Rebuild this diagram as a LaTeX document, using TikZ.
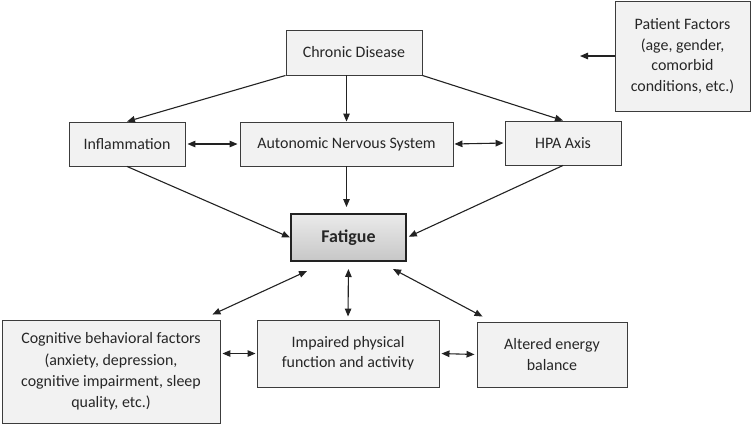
\documentclass[tikz,border=0pt]{standalone}
\usepackage{fontspec}
\setmainfont{Carlito}
\usetikzlibrary{calc,arrows.meta}
\definecolor{boxfill}{HTML}{F2F2F2}
\definecolor{boxline}{HTML}{3C3C3C}
\definecolor{arrowcol}{HTML}{222222}
\definecolor{textcol}{HTML}{262626}
\tikzstyle{box} = [draw=boxline,fill=boxfill,text=textcol,line width=0.9bp,align=center,inner sep=0pt,font=\fontsize{16}{20.5}\selectfont]
\tikzstyle{mainbox} = [draw=arrowcol,line width=2bp,top color=white!92!black,bottom color=white!78!black,text=textcol,inner sep=0pt,font=\fontsize{18}{22}\selectfont\bfseries]
\tikzstyle{arrow} = [line width=1.1bp,draw=arrowcol,-{Triangle[length=8bp,width=6.5bp]}]
\tikzstyle{dblarrow} = [line width=1.1bp,draw=arrowcol,{Triangle[length=8bp,width=6.5bp]}-{Triangle[length=8bp,width=6.5bp]}]
\begin{document}
\begin{tikzpicture}[x=1bp,y=-1bp]
\useasboundingbox (0,0) rectangle (751,425);

% top row
\node[box,minimum width=136bp,minimum height=45bp] (chronic) at (354,52.5) {Chronic Disease};
\node[box,minimum width=135bp,minimum height=110bp] (patient) at (682.5,56) {Patient Factors\\(age, gender,\\comorbid\\conditions, etc.)};
\coordinate (patientend) at (580,56);

% middle row
\node[box,minimum width=116bp,minimum height=44bp] (inflam) at (127,144) {Inflammation};
\node[box,minimum width=213bp,minimum height=44bp] (ans) at (346.5,144) {Autonomic Nervous System};
\node[box,minimum width=116bp,minimum height=44bp] (hpa) at (563,143) {HPA Axis};

\node[mainbox,minimum width=115bp,minimum height=47bp] (fatigue) at (348.5,237.5) {Fatigue};

% bottom row
\node[box,minimum width=218bp,minimum height=103bp,font=\fontsize{16}{21.5}\selectfont] (cog) at (111,371.5) {Cognitive behavioral factors\\(anxiety, depression,\\cognitive impairment, sleep\\quality, etc.)};
\node[box,minimum width=182bp,minimum height=67bp] (impaired) at (348,353.5) {Impaired physical\\function and activity};
\node[box,minimum width=150bp,minimum height=65bp] (altered) at (552,354.5) {Altered energy\\balance};

% connectors
\draw[arrow] (patient.west) -- (patientend);
\draw[arrow] (chronic.south west) -- (inflam.north);
\draw[arrow] (ans.north |- chronic.south) -- (ans.north);
\draw[arrow] (chronic.south east) -- (hpa.north);
\draw[dblarrow,shorten <=2bp,shorten >=2bp] (inflam.east) -- (ans.west);
\draw[dblarrow,shorten <=1bp,shorten >=1bp] (ans.east) -- (hpa.west);
\draw[arrow] (inflam.south) -- (fatigue.west);
\draw[arrow,shorten >=6bp] (ans.south) -- (ans.south |- fatigue.north);
\draw[arrow,shorten >=2bp] (hpa.south) -- (fatigue.east);
\draw[dblarrow] ($(fatigue.south west)+(17,9)$) -- ($(cog.north east)+(-8,-5)$);
\draw[dblarrow,shorten <=7bp,shorten >=3bp] (fatigue.south) -- (impaired.north);
\draw[dblarrow] ($(fatigue.south east)+(-14,7)$) -- ($(altered.north west)+(6,-5)$);
\draw[dblarrow,shorten <=2bp,shorten >=1bp] (cog.east |- impaired.west) -- (impaired.west);
\draw[dblarrow,shorten <=2bp,shorten >=2bp] (impaired.east) -- (altered.west);
\end{tikzpicture}
\end{document}
